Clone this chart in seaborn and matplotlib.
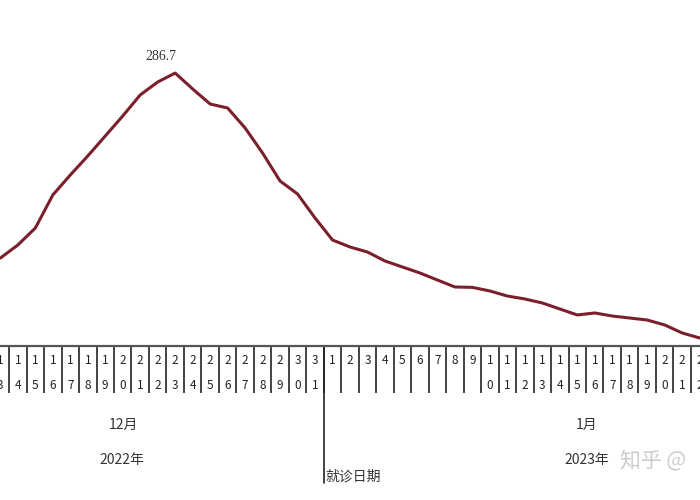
import numpy as np
import matplotlib
matplotlib.use("Agg")
import matplotlib.pyplot as plt
import matplotlib.transforms as mtransforms
import seaborn as sns

# 就诊日期 (12/13 ~ 1/22)
days = list(range(13, 32)) + list(range(1, 23))
# 每日就诊量
visits = [92.4, 106.1, 123.9, 158.6, 179.6, 199.6, 220.6, 241.6, 263.7, 277.3,
          286.7, 270.0, 254.2, 250.0, 229.0, 202.7, 173.3, 159.7, 134.5, 111.3,
          104.0, 98.7, 89.3, 83.0, 76.7, 69.3, 62.0, 61.6, 57.8, 52.5,
          49.4, 45.2, 38.9, 32.6, 34.7, 31.5, 29.4, 27.3, 22.1, 13.7, 8.4]
months = ["12月", "1月"]
years = ["2022年", "2023年"]
peak_label = "286.7"

sns.set_style("white")
plt.rcParams['font.family'] = ['Noto Sans CJK SC', 'DejaVu Sans']

idx = np.arange(len(visits))
line_col = "#7a1f2b"

fig = plt.figure(figsize=(7, 5), dpi=100)
ax = fig.add_axes([0, 154 / 500, 1, 306 / 500])
sns.lineplot(x=idx, y=visits, color=line_col, lw=2.2, ax=ax)

for s in ["top", "left", "right"]:
    ax.spines[s].set_visible(False)
ax.spines["bottom"].set_color("#555555")
ax.spines["bottom"].set_linewidth(1.6)
ax.set_yticks([])

# 日期刻度: 竖排数字
ax.set_xticks(idx)
ax.set_xticklabels(["\n".join(str(d)) for d in days])
ax.tick_params(axis="x", which="major", bottom=True, length=0, pad=6,
               labelsize=8.5, labelcolor="#222222")
for t in ax.get_xticklabels():
    t.set_linespacing(2.2)
ax.set_xticks(np.arange(-0.5, len(visits) + 0.5, 1), minor=True)
ax.tick_params(axis="x", which="minor", bottom=True, length=34, width=1.2,
               color="#222222")

# ticks 会扩大范围, 之后再设
ax.set_xlim(-0.02, len(visits) - 1 + 0.02)
ax.set_ylim(0, 306 / 0.952)

# 月份分隔线
trans = mtransforms.blended_transform_factory(ax.transData, ax.transAxes)
ax.plot([18.5, 18.5], [0, -137 / 306], transform=trans, clip_on=False,
        color="#222222", lw=1.2)

# 峰值标注
pk = int(np.argmax(visits))
ax.annotate(peak_label, xy=(idx[pk], visits[pk]), xytext=(-10, 7),
            textcoords="offset points", ha="center", va="bottom",
            family="Liberation Serif", fontsize=10, color="#333333")

# 月份/年份
fig.text(123 / 700, 1 - 425 / 500, months[0], ha="center", va="center", fontsize=10, color="#333333")
fig.text(122 / 700, 1 - 460 / 500, years[0], ha="center", va="center", fontsize=10, color="#333333")
fig.text(587 / 700, 1 - 425 / 500, months[1], ha="center", va="center", fontsize=10, color="#333333")
fig.text(587 / 700, 1 - 460 / 500, years[1], ha="center", va="center", fontsize=10, color="#333333")
fig.text(325 / 700, 1 - 477 / 500, "就诊日期", ha="left", va="center", fontsize=10, color="#333333")
fig.text(620 / 700, 1 - 460 / 500, "知乎 @", ha="left", va="center", fontsize=15, color="#cccccc")

fig.savefig("out.png", dpi=100)
